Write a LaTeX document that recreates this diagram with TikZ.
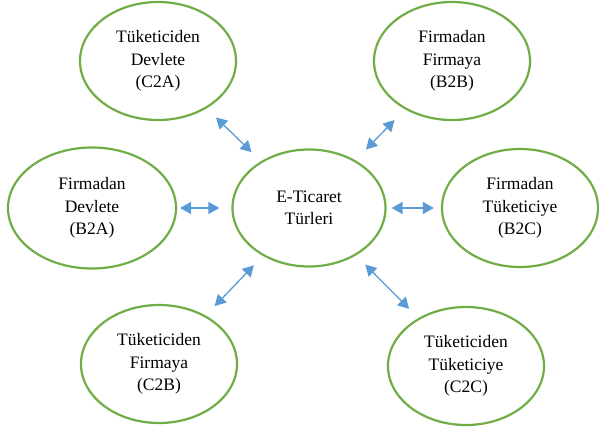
\documentclass[tikz,border=0pt]{standalone}
\usepackage{fontspec}
\setmainfont{Liberation Serif}
\usetikzlibrary{shapes.geometric,arrows.meta}
\definecolor{oval}{HTML}{70AD47}
\definecolor{link}{HTML}{5B9BD5}
\begin{document}
\begin{tikzpicture}[x=1pt,y=-1pt,
        oval/.style={ellipse, draw=oval, line width=2.2pt, inner sep=0pt,
          minimum width=156pt, minimum height=118pt, align=center,
          font=\fontsize{17.5}{22.5}\selectfont},
        arrow/.style={{Triangle[width=12pt,length=11pt]}-{Triangle[width=12pt,length=11pt]},
          draw=link, fill=link, line width=1.3pt, shorten <=13pt, shorten >=13pt}
      ]
      \useasboundingbox (0,0) rectangle (599,428);

      % Centre
      \node[oval, minimum width=153pt, minimum height=117pt] (center) at (309,208) {E-Ticaret\\Türleri};

      % Top row
      \node[oval] (c2a) at (158,61) {Tüketiciden\\Devlete\\(C2A)};
      \node[oval] (b2b) at (452,61) {Firmadan\\Firmaya\\(B2B)};

      % Middle row
      \node[oval, minimum width=168pt, minimum height=121pt] (b2a) at (92,208) {Firmadan\\Devlete\\(B2A)};
      \node[oval] (b2c) at (520,208) {Firmadan\\Tüketiciye\\(B2C)};

      % Bottom row
      \node[oval] (c2b) at (159,364) {Tüketiciden\\Firmaya\\(C2B)};
      \node[oval] (c2c) at (466,366) {Tüketiciden\\Tüketiciye\\(C2C)};

      % Connect everything
      \draw[arrow] (c2a) -- (center);
      \draw[arrow, shorten <=15pt, shorten >=15pt] (b2b) -- (center);
      \draw[arrow, shorten <=3pt, shorten >=12pt] (b2a) -- (center);
      \draw[arrow, shorten <=5pt, shorten >=7pt] (center) -- (b2c);
      \draw[arrow] (c2b) -- (center);
      \draw[arrow] (center) -- (c2c);
    \end{tikzpicture}
\end{document}
